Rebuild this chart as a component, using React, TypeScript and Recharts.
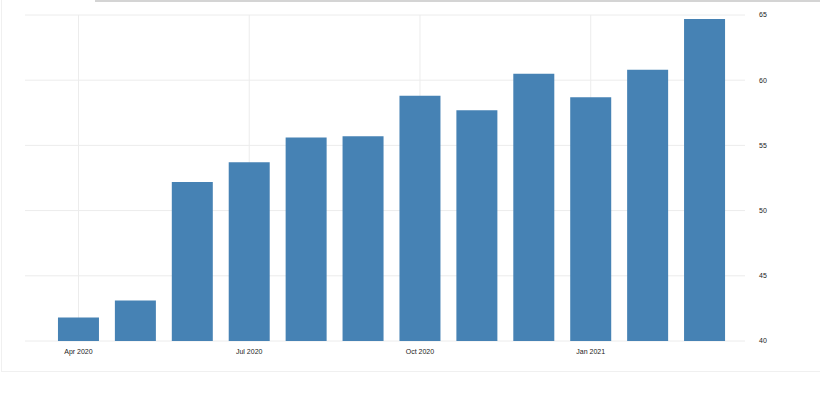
import { BarChart, Bar, XAxis, YAxis, CartesianGrid } from 'recharts';

const months = [
  'Apr 2020', 'May 2020', 'Jun 2020', 'Jul 2020', 'Aug 2020', 'Sep 2020',
  'Oct 2020', 'Nov 2020', 'Dec 2020', 'Jan 2021', 'Feb 2021', 'Mar 2021',
];
const values = [41.8, 43.1, 52.2, 53.7, 55.6, 55.7, 58.8, 57.7, 60.5, 58.7, 60.8, 64.7];
const xTicks = ['Apr 2020', 'Jul 2020', 'Oct 2020', 'Jan 2021'];
const yTicks = [40, 45, 50, 55, 60, 65];

const data = months.map((month, i) => ({ month, value: values[i] }));

const tickStyle = { fill: '#222', fontSize: 7, fontFamily: '"Liberation Sans", Arial, sans-serif' };

export default function App() {
  return (
    <div style={{ position: 'absolute', left: 0, top: 0, width: 820, height: 413, background: '#fff' }}>
      {/* frame around the chart */}
      <div style={{ position: 'absolute', left: 1, top: 0, width: 818, height: 371, border: '1px solid #f0f0f0', borderTop: 'none' }} />
      <div style={{ position: 'absolute', left: 95, top: 0, width: 725, height: 2, background: '#d4d4d4' }} />
      <div style={{ position: 'absolute', left: 0, top: 0 }}>
        <BarChart width={820} height={372} data={data} margin={{ top: 15, right: 0, left: 25, bottom: 0 }} barCategoryGap="14%">
          {/* syncWithTicks: no extra grid lines at the plot edges */}
          <CartesianGrid stroke="#ececec" syncWithTicks />
          <XAxis
            dataKey="month"
            ticks={xTicks}
            interval={0}
            height={31}
            padding={{ left: 25, right: 12 }}
            axisLine={false}
            tickLine={false}
            tickMargin={2}
            tick={tickStyle}
          />
          <YAxis
            orientation="right"
            domain={[40, 65]}
            ticks={yTicks}
            width={75}
            axisLine={false}
            tickLine={false}
            tickMargin={8}
            tick={tickStyle}
          />
          <Bar dataKey="value" fill="#4682b4" isAnimationActive={false} />
        </BarChart>
      </div>
    </div>
  );
}
